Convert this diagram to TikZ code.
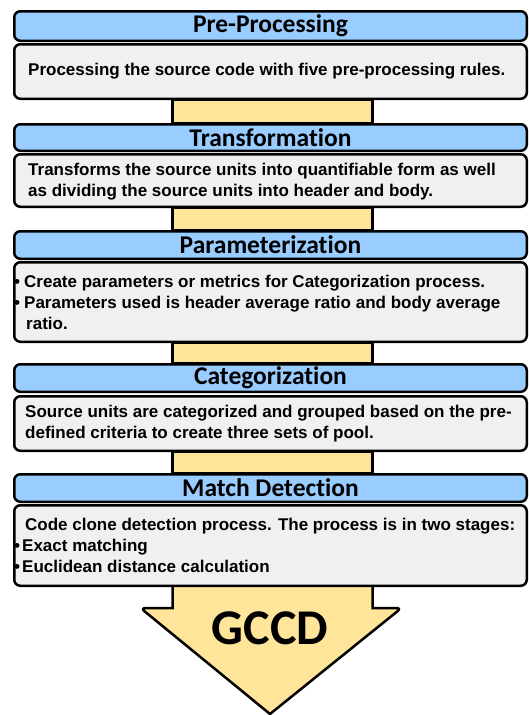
\documentclass[tikz,border=0pt]{standalone}
\usepackage{fontspec}
\setmainfont{Liberation Sans}
\newfontfamily\hdfont[Ligatures=NoCommon]{Carlito}
\usetikzlibrary{calc}
\pgfdeclarelayer{bg}
\pgfsetlayers{bg,main}
\definecolor{hdblue}{HTML}{99CCFF}
\definecolor{bodygray}{HTML}{F0F0F0}
\definecolor{linkyellow}{HTML}{FFE599}
\begin{document}
\begin{tikzpicture}[x=1pt,y=-1pt,
  hdr/.style={draw=black, line width=2.5pt, rounded corners=6pt, fill=hdblue,
    minimum width=512.5pt, inner sep=0pt, font=\hdfont\bfseries\fontsize{25.5}{27}\selectfont},
  bodybox/.style={draw=black, line width=2.5pt, rounded corners=6pt, fill=bodygray,
    minimum width=512.5pt, inner sep=0pt},
  bodytext/.style={anchor=west, inner sep=0pt, align=left, font=\bfseries\fontsize{17}{21}\selectfont},
  link/.style={draw=black, line width=2.5pt, fill=linkyellow}
]
\useasboundingbox (0,0) rectangle (529,715);
\def\bl{\makebox[10pt][l]{\textbullet}}
% headers and bodies
\node[hdr, minimum height=29.5pt] (h1) at (270.5,26) {Pre-Processing};
\node[bodybox, minimum height=54.5pt] (b1) at (270.5,71.5) {};
\node[hdr, minimum height=26.5pt] (h2) at (270.5,137.5) {Transformation};
\node[bodybox, minimum height=52.5pt] (b2) at (270.5,180.5) {};
\node[hdr, minimum height=27.5pt] (h3) at (270.5,245) {Parameterization};
\node[bodybox, minimum height=79.5pt] (b3) at (270.5,302) {};
\node[hdr, minimum height=27.5pt] (h4) at (270.5,378) {Categorization};
\node[bodybox, minimum height=54.5pt] (b4) at (270.5,423.5) {};
\node[hdr, minimum height=27.5pt] (h5) at (270.5,488) {Match Detection};
\node[bodybox, minimum height=80.5pt] (b5) at (270.5,545.5) {};
% body texts
\node[bodytext] (t1) at (28,71.5) {Processing the source code with five pre-processing rules.};
\node[bodytext] (t2) at (28,181.5) {Transforms the source units into quantifiable form as well\\as dividing the source units into header and body.};
\node[bodytext] (t3) at (14,302) {\bl Create parameters or metrics for Categorization process.\\\bl Parameters used is header average ratio and body average\\\hspace*{12pt}ratio.};
\node[bodytext] (t4) at (25,423.5) {Source units are categorized and grouped based on the pre-\\defined criteria to create three sets of pool.};
\node[bodytext] (t5) at (14,545.5) {\hspace*{11pt}Code clone detection process. The process is in two stages:\\\makebox[8pt][l]{\textbullet}Exact matching\\\makebox[8pt][l]{\textbullet}Euclidean distance calculation};
% connectors
\begin{pgfonlayer}{bg}
\foreach \a/\b in {b1/h2, b2/h3, b3/h4, b4/h5}{
  \draw[link] ([xshift=-98pt]\a.south) rectangle ([xshift=102pt]\b.north);
}
\draw[link, line join=miter] ([xshift=-98pt]b5.south) -- ([xshift=-98pt,yshift=-21pt]b5.south)
  [rounded corners=5pt] -- ([xshift=-130pt,yshift=-21pt]b5.south)
  [sharp corners] -- ([xshift=-0.5pt,yshift=-127pt]b5.south)
  [rounded corners=5pt] -- ([xshift=131pt,yshift=-21pt]b5.south)
  [sharp corners] -- ([xshift=102pt,yshift=-21pt]b5.south) -- ([xshift=102pt]b5.south);
\end{pgfonlayer}
\node[font=\hdfont\bfseries\fontsize{50}{56}\selectfont, inner sep=0pt] (g) at (270,628) {GCCD};
\end{tikzpicture}
\end{document}
